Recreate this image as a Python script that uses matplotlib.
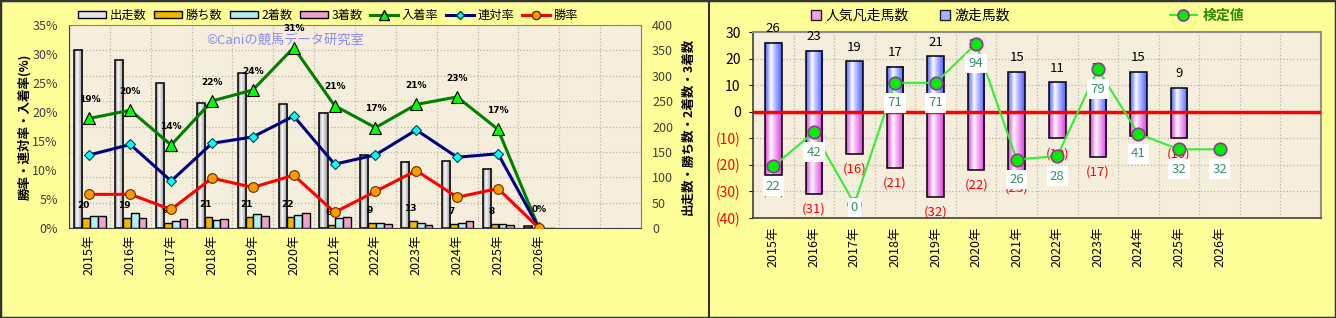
import numpy as np
import matplotlib
matplotlib.use('Agg')
import matplotlib.pyplot as plt
from matplotlib.colors import to_rgb
from matplotlib.patches import Rectangle, Patch
from matplotlib.lines import Line2D

plt.rcParams['font.family'] = ['Noto Sans CJK JP', 'DejaVu Sans']

# ---- data (left chart) ----
years = ['2015年', '2016年', '2017年', '2018年', '2019年', '2020年', '2021年',
         '2022年', '2023年', '2024年', '2025年', '2026年', '', '']
starters = [351, 332, 285, 246, 305, 244, 227, 144, 131, 132, 117, 3]
wins = [20, 19, 9, 21, 21, 22, 6, 9, 13, 7, 8, 0]
seconds = [24, 29, 14, 15, 27, 25, 19, 9, 9, 9, 7, 0]
thirds = [23, 19, 17, 18, 24, 29, 22, 7, 6, 14, 5, 0]
place_rate = [18.9, 20.3, 14.3, 21.9, 23.8, 31.1, 21.1, 17.3, 21.3, 22.6, 17.0, 0.0]
rentai_rate = [12.6, 14.4, 8.1, 14.6, 15.7, 19.3, 11.0, 12.6, 16.9, 12.2, 12.8, 0.0]
win_rate = [5.8, 5.8, 3.2, 8.6, 7.0, 9.1, 2.7, 6.3, 9.9, 5.3, 6.8, 0.0]

# ---- data (right chart) ----
gekisou = [26, 23, 19, 17, 21, 20, 15, 11, 11, 15, 9, 0]
bonsou = [24, 31, 16, 21, 32, 22, 23, 10, 17, 9, 10, 0]
kentei = [22, 42, 0, 71, 71, 94, 26, 28, 79, 41, 32, 32]

BG = '#FFFF99'
PLOT_BG = '#F6EEDC'
GRID = '#BDB5A5'
W, H = 1336, 318


def grad_bar(ax, x, width, y0, y1, edge, zorder=2):
    """bar with a horizontal white highlight, like the excel cylinder look"""
    if y0 == y1:
        return
    t = np.linspace(0, 1, 40)
    k = np.where(t < 0.35, (0.35 - t) / 0.35, (t - 0.35) / 0.65) ** 0.9
    c = np.array(to_rgb(edge))
    rgb = 1 - k[:, None] * (1 - c[None, :])
    lo, hi = min(y0, y1), max(y0, y1)
    ax.imshow(rgb[None, :, :], extent=[x - width / 2, x + width / 2, lo, hi],
              aspect='auto', interpolation='bilinear', zorder=zorder)
    ax.add_patch(Rectangle((x - width / 2, lo), width, hi - lo, fill=False,
                           edgecolor='black', lw=1.1, zorder=zorder + 0.1))


fig = plt.figure(figsize=(W / 100, H / 100), dpi=100, facecolor=BG)
x = np.arange(len(years))
n = len(starters)

# ================= left chart =================
axc = fig.add_axes([69 / W, 90 / H, 572 / W, 203 / H], facecolor=PLOT_BG)
axr = axc.twinx()

for i in range(n):
    grad_bar(axc, x[i] - 0.27, 0.2, 0, starters[i], '#909090')
axc.bar(x[:n] - 0.08, wins, 0.18, color='#F2B800', edgecolor='black', lw=1, zorder=2)
axc.bar(x[:n] + 0.11, seconds, 0.19, color='#B4F0F0', edgecolor='black', lw=1, zorder=2)
axc.bar(x[:n] + 0.30, thirds, 0.19, color='#F0A0CC', edgecolor='black', lw=1, zorder=2)

axc.set_xlim(-0.5, len(years) - 0.5)
axc.set_ylim(0, 400)
axc.set_yticks(range(0, 401, 50))
axc.yaxis.tick_right()
axc.yaxis.set_label_position('right')
axc.set_xticks(x)
axc.set_xticklabels(years, rotation=90, fontsize=9)
axc.set_xticks(np.arange(-0.5, len(years), 1), minor=True)
axc.grid(which='minor', axis='x', ls=':', color=GRID, lw=0.9)
axc.grid(which='major', axis='y', ls=':', color=GRID, lw=0.9)
axc.set_axisbelow(True)
axc.tick_params(axis='x', which='both', length=0, pad=5)
axc.tick_params(axis='y', length=0, pad=8, labelsize=9, labelcolor='#404040')
axc.set_ylabel('出走数・勝ち数・2着数・3着数', fontsize=9, fontweight='bold', labelpad=6)

axr.plot(x[:n], place_rate, color='#008000', lw=2.2, marker='^', ms=9,
         mfc='#00FF00', mec='black', mew=0.8, zorder=3)
axr.plot(x[:n], rentai_rate, color='#000080', lw=2.2, marker='D', ms=5.5,
         mfc='#00FFFF', mec='#004040', mew=0.8, zorder=3)
axr.plot(x[:n], win_rate, color='#FF0000', lw=2.2, marker='o', ms=7,
         mfc='#FF9900', mec='#603000', mew=0.8, zorder=3)
axr.set_ylim(0, 35)
axr.set_yticks(range(0, 36, 5))
axr.set_yticklabels([f'{v}%' for v in range(0, 36, 5)])
axr.yaxis.tick_left()
axr.yaxis.set_label_position('left')
axr.tick_params(axis='y', length=0, pad=8, labelsize=9, labelcolor='#404040')
axr.set_ylabel('勝率・連対率・入着率(%)', fontsize=9, fontweight='bold', labelpad=1)

for i in range(n):
    axr.annotate(f'{place_rate[i]:.0f}%', (x[i], place_rate[i]), xytext=(0, 13.5),
                 textcoords='offset points', ha='center', va='center',
                 fontsize=6.5, fontweight='bold', family='DejaVu Sans', zorder=5)
    if wins[i] > 0:
        axr.annotate(str(wins[i]), (x[i] - 0.08, wins[i] * 35 / 400), xytext=(-2, 9),
                     textcoords='offset points', ha='center', va='center',
                     fontsize=6.5, fontweight='bold', family='DejaVu Sans', zorder=2)

for sp in ['left', 'bottom']:
    axc.spines[sp].set_color('#404040')
for sp in ['top', 'right']:
    axc.spines[sp].set_color('#808080')
for sp in axr.spines.values():
    sp.set_visible(False)

axc.text(0.24, 0.925, '©Caniの競馬データ研究室', transform=axc.transAxes,
         color='#8C8CF0', fontsize=9.5, va='center', zorder=1)

h_left = [Patch(facecolor='#E6E6E6', edgecolor='black', label='出走数'),
          Patch(facecolor='#F2B800', edgecolor='black', label='勝ち数'),
          Patch(facecolor='#B4F0F0', edgecolor='black', label='2着数'),
          Patch(facecolor='#F0A0CC', edgecolor='black', label='3着数'),
          Line2D([], [], color='#008000', lw=2.2, marker='^', ms=7, mfc='#00FF00', mec='black', label='入着率'),
          Line2D([], [], color='#000080', lw=2.2, marker='D', ms=4.5, mfc='#00FFFF', mec='#004040', label='連対率'),
          Line2D([], [], color='#FF0000', lw=2.2, marker='o', ms=6, mfc='#FF9900', mec='#603000', label='勝率')]
fig.legend(handles=h_left, loc='center', bbox_to_anchor=(328 / W, 1 - 15 / H), ncol=7,
           frameon=False, fontsize=8.8, handlelength=2.3, handleheight=0.5,
           handletextpad=0.3, columnspacing=0.6)

# ================= right chart =================
ax = fig.add_axes([753 / W, 100 / H, 568 / W, 186 / H], facecolor=PLOT_BG)
for i in range(n):
    if gekisou[i]:
        grad_bar(ax, x[i], 0.41, 0, gekisou[i], '#5060FF')
        ax.annotate(str(gekisou[i]), (x[i], gekisou[i]), xytext=(0, 10),
                    textcoords='offset points', ha='center', va='center', fontsize=9.5, zorder=3)
    if bonsou[i]:
        grad_bar(ax, x[i], 0.41, 0, -bonsou[i], '#E040E0')
        ax.annotate(f'({bonsou[i]})', (x[i], -bonsou[i]), xytext=(0, -11),
                    textcoords='offset points', ha='center', va='center',
                    fontsize=9.5, color='#FF0000', zorder=3)
ax.axhline(0, color='#FF0000', lw=2.5, zorder=3)

ax.set_xlim(-0.5, len(years) - 0.5)
ax.set_ylim(-40, 30)
yt = list(range(-40, 31, 10))
ax.set_yticks(yt)
ax.set_yticklabels([f'({-v})' if v < 0 else str(v) for v in yt])
for lab, v in zip(ax.get_yticklabels(), yt):
    lab.set_color('#FF0000' if v < 0 else 'black')
ax.set_xticks(x)
ax.set_xticklabels(years, rotation=90, fontsize=9)
ax.set_xticks(np.arange(-0.5, len(years), 1), minor=True)
ax.grid(which='minor', axis='x', ls=':', color=GRID, lw=0.9)
ax.grid(which='major', axis='y', ls=':', color=GRID, lw=0.9)
ax.set_axisbelow(True)
ax.tick_params(axis='x', which='both', length=0, pad=6)
ax.tick_params(axis='y', length=3, pad=6, labelsize=10)
for sp in ['left', 'bottom']:
    ax.spines[sp].set_color('#404040')
    ax.spines[sp].set_linewidth(1.2)
for sp in ['top', 'right']:
    ax.spines[sp].set_color('#909090')
    ax.spines[sp].set_linewidth(1.5)

axk = ax.twinx()
axk.set_ylim(-8.3, 100.8)
axk.plot(x[:n], kentei, color='#33EE33', lw=1.5, marker='o', ms=9,
         mfc='#00EE00', mec='#993399', mew=1.2, zorder=4)
for i in range(n):
    ly = max(kentei[i] - 11.7, -2.1)
    axk.text(x[i], ly, str(kentei[i]), ha='center', va='center', fontsize=9.5,
             color='#3A8F6A', zorder=5,
             bbox=dict(boxstyle='square,pad=0.25', fc='white', ec='none'))
axk.axis('off')

h_right = [Line2D([], [], ls='none', marker='s', ms=7, mfc='#F0A0F0', mec='#202020', label='人気凡走馬数'),
           Line2D([], [], ls='none', marker='s', ms=7, mfc='#A8B4FF', mec='#202020', label='激走馬数')]
fig.legend(handles=h_right, loc='center', bbox_to_anchor=(910 / W, 1 - 16 / H), ncol=2,
           frameon=False, fontsize=10, handlelength=0.8, handletextpad=0.3, columnspacing=2.2)
h_k = [Line2D([], [], color='#33EE33', lw=1.5, marker='o', ms=8, mfc='#00EE00',
              mec='#993399', mew=1.2, label='検定値')]
leg = fig.legend(handles=h_k, loc='center', bbox_to_anchor=(1207 / W, 1 - 16 / H),
                 frameon=False, fontsize=10, handlelength=2.0, handletextpad=0.4)
leg.get_texts()[0].set_color('#2E8B00')
leg.get_texts()[0].set_fontweight('bold')

# frames
fig.add_artist(Rectangle((0, 0), 1, 1, transform=fig.transFigure, fill=False,
                         edgecolor='#333333', lw=2.5))
fig.add_artist(Line2D([709 / W, 709 / W], [0, 1], transform=fig.transFigure,
                      color='#333333', lw=1.5))

fig.savefig('out.png', dpi=100, facecolor=BG)
